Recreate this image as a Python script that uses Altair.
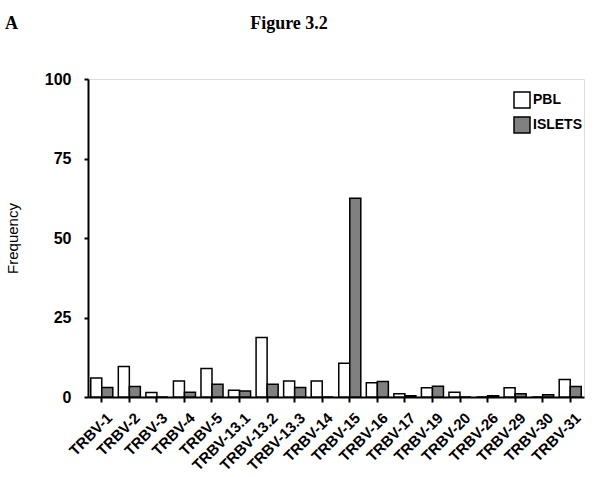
import altair as alt
import pandas as pd

categories = ["TRBV-1", "TRBV-2", "TRBV-3", "TRBV-4", "TRBV-5", "TRBV-13.1", "TRBV-13.2",
              "TRBV-13.3", "TRBV-14", "TRBV-15", "TRBV-16", "TRBV-17", "TRBV-19", "TRBV-20",
              "TRBV-26", "TRBV-29", "TRBV-30", "TRBV-31"]
pbl = [6.0, 9.6, 1.4, 5.0, 9.0, 2.1, 18.7, 5.0, 5.0, 10.6, 4.5, 1.0, 2.9, 1.5, 0.0, 2.9, 0.0, 5.5]
islets = [3.0, 3.3, 0.0, 1.5, 4.0, 1.9, 4.0, 3.0, 0.0, 62.5, 4.9, 0.4, 3.4, 0.0, 0.4, 1.0, 0.7, 3.3]
series = ["PBL", "ISLETS"]
y_ticks = [0, 25, 50, 75, 100]

rows = []
for c, p, i in zip(categories, pbl, islets):
    rows.append({"cat": c, "series": "PBL", "value": p})
    rows.append({"cat": c, "series": "ISLETS", "value": i})
df = pd.DataFrame(rows)

bars = alt.Chart(df).mark_bar(stroke="black", strokeWidth=1.5).encode(
    x=alt.X("cat:N", sort=categories,
            scale=alt.Scale(paddingInner=0.2, paddingOuter=0.1),
            axis=alt.Axis(title=None, labelAngle=-45, labelAlign="right", labelBaseline="top",
                          labelFont="Liberation Sans", labelFontWeight="bold", labelFontSize=15,
                          labelColor="black", domainColor="black", domainWidth=2,
                          tickColor="black", tickWidth=2, tickSize=5, labelPadding=8,
                          labelOffset=3)),
    xOffset=alt.XOffset("series:N", sort=series),
    y=alt.Y("value:Q", scale=alt.Scale(domain=[0, 100]),
            axis=alt.Axis(values=y_ticks, title="Frequency", grid=False,
                          labelFont="Liberation Sans", labelFontWeight="bold", labelFontSize=16,
                          labelColor="black", domainColor="black", domainWidth=2,
                          tickColor="black", tickWidth=2, tickSize=4, labelPadding=13,
                          titleFont="Liberation Sans", titleFontWeight="normal", titleFontSize=15,
                          titleColor="black", titlePadding=24)),
    fill=alt.Fill("series:N", sort=series,
                  scale=alt.Scale(domain=series, range=["white", "#808080"]),
                  legend=alt.Legend(title=None, orient="none", legendX=425, legendY=12,
                                    symbolType="square", symbolSize=256,
                                    symbolStrokeColor="black", symbolStrokeWidth=1.5,
                                    labelFont="Liberation Sans", labelFontWeight="bold",
                                    labelFontSize=14, labelColor="black", labelOffset=2,
                                    rowPadding=3)),
)

label_a = alt.Chart(alt.Data(values=[{}])).mark_text(
    text="A", font="Liberation Serif", fontWeight="bold", fontSize=18,
    align="left", baseline="alphabetic", color="black"
).encode(x=alt.value(-83), y=alt.value(-50))

title = alt.Chart(alt.Data(values=[{}])).mark_text(
    text="Figure 3.2", font="Liberation Serif", fontWeight="bold", fontSize=18,
    align="center", baseline="alphabetic", color="black"
).encode(x=alt.value(201), y=alt.value(-50))

chart = alt.layer(bars, label_a, title).properties(
    width=496, height=318,
    autosize=alt.AutoSizeParams(type="none"),
    padding={"left": 88, "top": 79, "right": 14, "bottom": 80},
).configure_view(stroke=None).configure(background="white")

chart.save("out.html", embed_options={"renderer": "svg", "actions": False})
